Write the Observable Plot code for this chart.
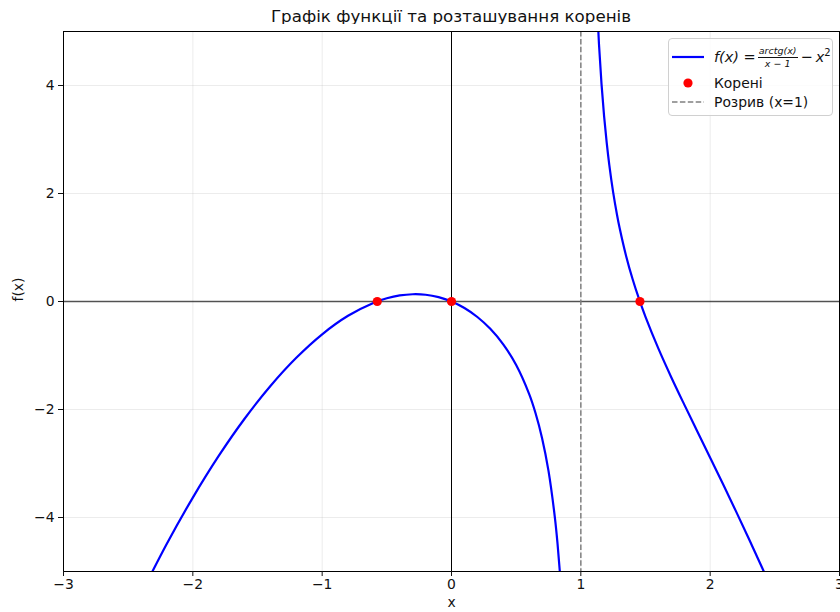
<!DOCTYPE html>
<html>
<head>
<meta charset="utf-8">
<script src="https://cdn.jsdelivr.net/npm/d3@7"></script>
<script src="https://cdn.jsdelivr.net/npm/@observablehq/plot@0.6"></script>
<style>
  body { margin: 0; background: #fff; font-family: "DejaVu Sans", sans-serif; }
  #wrap { position: relative; width: 840px; height: 612px; overflow: hidden; }
  #title { position: absolute; left: 63px; width: 776px; top: 4px; height: 24px; line-height: 24px;
           text-align: center; font-size: 16.7px; color: #111; }
  #chart { position: absolute; left: 0; top: 24px; }
  #legend { position: absolute; left: 668px; top: 38px; width: 165px; height: 78px; box-sizing: border-box;
            border: 1px solid #d0d0d0; border-radius: 4px; background: rgba(255,255,255,0.85);
            font-size: 13.9px; color: #111; }
  .row { position: absolute; left: 0; height: 20px; display: flex; align-items: center; }
  .sample { width: 36px; height: 20px; margin-left: 3px; margin-right: 6px; }
  .math { font-style: italic; display: flex; align-items: center; font-size: 14.5px; white-space: nowrap; }
  .frac { display: inline-flex; flex-direction: column; align-items: center; font-size: 9.5px; margin: 0 2px; }
  .frac .num { border-bottom: 1px solid #111; padding: 0 1px 1px 1px; line-height: 10px; }
  .frac .den { line-height: 10px; padding-top: 1px; }
  .minus { font-style: normal; margin: 0 3px 0 1px; }
  .sq { position: relative; }
  .sq .p { position: relative; top: -6px; font-size: 10px; font-style: normal; }
</style>
</head>
<body>
<div id="wrap">
  <div id="title">Графік функції та розташування коренів</div>
  <div id="chart"></div>
  <div id="legend"></div>
</div>
<script>
// Left branch (x < 1)
const leftX = [-2.4, -2.2, -2.0, -1.8, -1.6, -1.4, -1.2, -1.0, -0.8, -0.6, -0.5, -0.4, -0.3, -0.2, -0.1, 0, 0.1, 0.2, 0.3, 0.4, 0.5, 0.6, 0.65, 0.7, 0.75, 0.8, 0.82, 0.84, 0.86];
const leftY = [-5.414, -4.482, -3.631, -2.860, -2.171, -1.564, -1.042, -0.607, -0.265, -0.022, 0.059, 0.112, 0.134, 0.125, 0.081, 0, -0.121, -0.287, -0.506, -0.794, -1.177, -1.711, -2.069, -2.526, -3.136, -4.014, -4.488, -5.072, -5.814];
// Right branch (x > 1)
const rightX = [1.1, 1.12, 1.14, 1.16, 1.18, 1.2, 1.22, 1.25, 1.28, 1.3, 1.35, 1.4, 1.45, 1.5, 1.6, 1.7, 1.8, 1.9, 2.0, 2.1, 2.2, 2.3, 2.4, 2.5];
const rightY = [7.12, 5.766, 4.777, 4.025, 3.429, 2.941, 2.531, 2.022, 1.603, 1.360, 0.844, 0.416, 0.047, -0.284, -0.873, -1.406, -1.910, -2.403, -2.893, -3.386, -3.887, -4.397, -4.920, -5.456];
// Roots
const rootX = [-0.574, 0, 1.457];
const rootY = [0, 0, 0];
// Discontinuity
const breakX = [1];
// Ticks
const xTicks = [-3, -2, -1, 0, 1, 2, 3];
const yTicks = [-4, -2, 0, 2, 4];

const left = leftX.map((x, i) => ({x, y: leftY[i]}));
const right = rightX.map((x, i) => ({x, y: rightY[i]}));
const roots = rootX.map((x, i) => ({x, y: rootY[i]}));
const fmt = d => d < 0 ? "\u2212" + Math.abs(d) : String(d);

const chart = Plot.plot({
  width: 840,
  height: 588,
  marginLeft: 63,
  marginRight: 1,
  marginTop: 7,
  marginBottom: 41,
  style: {fontFamily: "DejaVu Sans, sans-serif", fontSize: "13.9px", color: "#111", background: "white"},
  x: {domain: [-3, 3]},
  y: {domain: [-5, 5]},
  marks: [
    Plot.gridX(xTicks, {stroke: "#b0b0b0", strokeOpacity: 0.3, strokeWidth: 0.8}),
    Plot.gridY(yTicks, {stroke: "#b0b0b0", strokeOpacity: 0.3, strokeWidth: 0.8}),
    Plot.ruleY([0], {stroke: "black", strokeOpacity: 0.65, strokeWidth: 1.7}),
    Plot.ruleX([0], {stroke: "black", strokeWidth: 1}),
    Plot.ruleX(breakX, {stroke: "gray", strokeWidth: 1.5, strokeDasharray: "5.5,2.4"}),
    Plot.line(left, {x: "x", y: "y", stroke: "blue", strokeWidth: 2.2, curve: "catmull-rom", clip: true}),
    Plot.line(right, {x: "x", y: "y", stroke: "blue", strokeWidth: 2.2, curve: "catmull-rom", clip: true}),
    Plot.dot(roots, {x: "x", y: "y", r: 4.6, fill: "red", stroke: "none"}),
    Plot.frame({stroke: "black", strokeWidth: 1}),
    Plot.axisX(xTicks, {tickSize: 5, tickPadding: 3, tickFormat: fmt, label: null, fontSize: "13.9px"}),
    Plot.axisY(yTicks, {tickSize: 5, tickPadding: 4, tickFormat: fmt, label: null, fontSize: "13.9px"}),
    Plot.text(["x"], {frameAnchor: "bottom", dy: 35, fontSize: 13.9, fill: "#111"}),
    Plot.text(["f(x)"], {frameAnchor: "left", dx: -45, rotate: -90, fontSize: 13.9, fill: "#111"})
  ]
});
document.getElementById("chart").appendChild(chart);

// Legend
const legend = document.getElementById("legend");
legend.innerHTML = `
  <div class="row" style="top:8px;">
    <svg class="sample"><line x1="0" x2="32" y1="10" y2="10" stroke="blue" stroke-width="2.2"/></svg>
    <span class="math">f(x) = <span class="frac"><span class="num">arctg(x)</span><span class="den">x \u2212 1</span></span><span class="minus">\u2212</span><span class="sq">x<span class="p">2</span></span></span>
  </div>
  <div class="row" style="top:34px;">
    <svg class="sample"><circle cx="16" cy="10" r="4.6" fill="red"/></svg>
    <span>Корені</span>
  </div>
  <div class="row" style="top:53px;">
    <svg class="sample"><line x1="0" x2="32" y1="10" y2="10" stroke="gray" stroke-width="1.5" stroke-dasharray="5.5,2.4"/></svg>
    <span>Розрив (x=1)</span>
  </div>`;
</script>
</body>
</html>
